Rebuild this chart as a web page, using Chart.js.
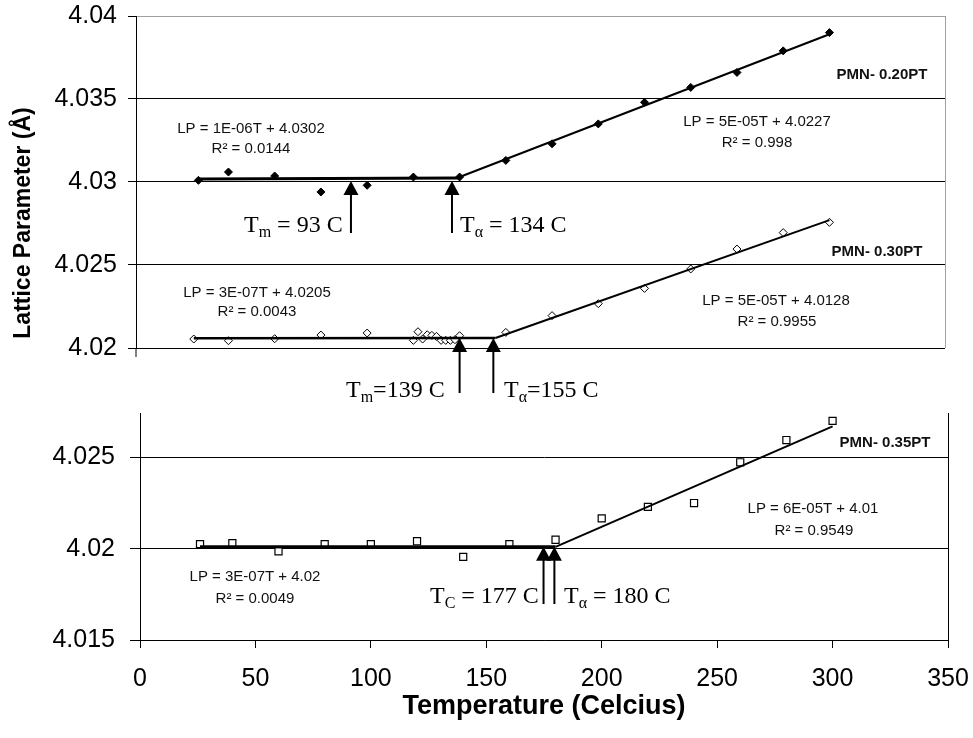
<!DOCTYPE html>
<html>
<head>
<meta charset="utf-8">
<script src="https://cdn.jsdelivr.net/npm/chart.js@4.4.1/dist/chart.umd.min.js"></script>
<style>
  html, body { margin: 0; padding: 0; background: #fff; overflow: hidden; width: 973px; height: 738px; }
  #wrap { position: relative; width: 973px; height: 738px; overflow: hidden; }
  #bot { position: absolute; left: 0; top: 380px; }
  #top { position: absolute; left: 0; top: -14px; }
</style>
</head>
<body>
<div id="wrap">
  <canvas id="bot" width="1000" height="358"></canvas>
  <canvas id="top" width="1000" height="420"></canvas>
</div>
<script>
// PMN-0.20PT (filled diamonds)
const T20 = [27, 40, 60, 80, 100, 120, 140, 160, 180, 200, 220, 240, 260, 280, 300];
const LP20 = [4.0301, 4.0306, 4.03036, 4.0294, 4.0298, 4.0303, 4.0303, 4.0313, 4.0323, 4.0335, 4.0348, 4.0357, 4.0366, 4.0379, 4.0390];
// PMN-0.30PT (open diamonds)
const T30 = [25, 40, 60, 80, 100, 120, 122, 124, 126, 128, 130, 132, 134, 136, 138, 140, 160, 180, 200, 220, 240, 260, 280, 300];
const LP30 = [4.02054, 4.02044, 4.02056, 4.02078, 4.0209, 4.02046, 4.02098, 4.02054, 4.0208, 4.02076, 4.0207, 4.02046,
              4.02046, 4.02046, 4.0205, 4.02074, 4.02094, 4.02195, 4.02267, 4.02359, 4.02476, 4.02596, 4.02695, 4.02757];
// PMN-0.35PT (open squares)
const T35 = [26, 40, 60, 80, 100, 120, 140, 160, 180, 200, 220, 240, 260, 280, 300];
const LP35 = [4.02025, 4.0203, 4.01986, 4.02025, 4.02025, 4.02041, 4.01955, 4.02025, 4.02049, 4.02166, 4.02229, 4.0225, 4.02473, 4.02595, 4.0270];

// trend lines (end points)
const fit20LowT = [27, 140], fit20LowLP = [4.03018, 4.03024];
const fit20HighT = [140, 300], fit20HighLP = [4.0303, 4.0389];
const fit30LowT = [25, 155.5], fit30LowLP = [4.02058, 4.0206];
const fit30HighT = [155.5, 300], fit30HighLP = [4.0206, 4.0277];
const fit35LowT = [26, 180], fit35LowLP = [4.0201, 4.0201];
const fit35HighT = [180, 300], fit35HighLP = [4.0201, 4.0267];

// transition arrows (temperature where each arrow stands)
const arrowsTopT = [93, 136.7];
const arrowsMidT = [140, 154.6];
const arrowsBotT = [174.8, 179.5];

// ticks
const xTicks = [0, 50, 100, 150, 200, 250, 300, 350];
const topYTicks = [4.02, 4.025, 4.03, 4.035, 4.04];
const topYLabels = ['4.02', '4.025', '4.03', '4.035', '4.04'];
const botYTicks = [4.015, 4.02, 4.025];
const botYLabels = ['4.015', '4.02', '4.025'];

Chart.defaults.font.family = '"Liberation Sans", Arial, sans-serif';
Chart.defaults.color = '#000';

const pts = (t, v) => t.map((x, i) => ({ x: x, y: v[i] }));

function fitSet(t, v, w) {
  return { data: pts(t, v), showLine: true, pointRadius: 0, borderColor: '#000', borderWidth: w, fill: false };
}

function arrow(ctx, x, yTip, yEnd) {
  ctx.save();
  ctx.fillStyle = '#000';
  ctx.strokeStyle = '#000';
  ctx.lineWidth = 2;
  ctx.beginPath();
  ctx.moveTo(x, yTip + 10);
  ctx.lineTo(x, yEnd);
  ctx.stroke();
  ctx.beginPath();
  ctx.moveTo(x, yTip);
  ctx.lineTo(x - 7.5, yTip + 14);
  ctx.lineTo(x + 7.5, yTip + 14);
  ctx.closePath();
  ctx.fill();
  ctx.restore();
}

// "T" with a subscript, then the rest of the text
function tLabel(ctx, x, y, sub, rest) {
  ctx.save();
  ctx.fillStyle = '#000';
  ctx.textAlign = 'left';
  ctx.textBaseline = 'alphabetic';
  ctx.font = '24px "Liberation Serif"';
  ctx.fillText('T', x, y);
  let w = ctx.measureText('T').width;
  ctx.font = '16px "Liberation Serif"';
  ctx.fillText(sub, x + w, y + 5);
  w += ctx.measureText(sub).width;
  ctx.font = '24px "Liberation Serif"';
  ctx.fillText(rest, x + w, y);
  ctx.restore();
}

function note(ctx, text, x, y, bold) {
  ctx.save();
  ctx.fillStyle = '#111';
  ctx.textAlign = 'center';
  ctx.textBaseline = 'middle';
  ctx.font = (bold ? 'bold 15px' : '15px') + ' "Liberation Sans"';
  ctx.fillText(text, x, y);
  ctx.restore();
}

const topNotes = {
  id: 'topNotes',
  afterDraw(chart) {
    const { ctx, chartArea } = chart;
    const x = chart.scales.x, y = chart.scales.y;
    const oy = 14; // canvas sits 14px above the page
    ctx.save();
    ctx.strokeStyle = '#000';
    ctx.lineWidth = 1;
    ctx.beginPath();
    ctx.moveTo(chartArea.left, chartArea.bottom);
    ctx.lineTo(chartArea.left, chartArea.bottom + 9);
    ctx.stroke();
    // y axis title, set a bit lower than the panel centre as in the original
    ctx.translate(24, 223 + oy);
    ctx.rotate(-Math.PI / 2);
    ctx.fillStyle = '#000';
    ctx.textAlign = 'center';
    ctx.textBaseline = 'middle';
    ctx.font = 'bold 23px "Liberation Sans"';
    ctx.fillText('Lattice Parameter (Å)', 0, 0);
    ctx.restore();

    arrow(ctx, x.getPixelForValue(arrowsTopT[0]), y.getPixelForValue(4.03) - 1, 233 + oy);
    arrow(ctx, x.getPixelForValue(arrowsTopT[1]), y.getPixelForValue(4.03) - 1, 233 + oy);
    arrow(ctx, x.getPixelForValue(arrowsMidT[0]), y.getPixelForValue(4.0206), 393 + oy);
    arrow(ctx, x.getPixelForValue(arrowsMidT[1]), y.getPixelForValue(4.0206), 393 + oy);

    tLabel(ctx, 244, 232 + oy, 'm', ' = 93 C');
    tLabel(ctx, 460, 232 + oy, 'α', ' = 134 C');
    tLabel(ctx, 346, 397 + oy, 'm', '=139 C');
    tLabel(ctx, 504, 397 + oy, 'α', '=155 C');

    note(ctx, 'LP = 1E-06T + 4.0302', 251, 129 + oy);
    note(ctx, 'R² = 0.0144', 251, 149 + oy);
    note(ctx, 'LP = 5E-05T + 4.0227', 757, 122 + oy);
    note(ctx, 'R² = 0.998', 757, 143 + oy);
    note(ctx, 'PMN- 0.20PT', 882, 75 + oy, true);

    note(ctx, 'LP = 3E-07T + 4.0205', 257, 293 + oy);
    note(ctx, 'R² = 0.0043', 257, 312 + oy);
    note(ctx, 'LP = 5E-05T + 4.0128', 776, 301 + oy);
    note(ctx, 'R² = 0.9955', 777, 322 + oy);
    note(ctx, 'PMN- 0.30PT', 877, 252 + oy, true);
  }
};

const botNotes = {
  id: 'botNotes',
  afterDraw(chart) {
    const { ctx } = chart;
    const x = chart.scales.x, y = chart.scales.y;
    const oy = -380; // canvas starts 380px down the page
    arrow(ctx, x.getPixelForValue(arrowsBotT[0]), y.getPixelForValue(4.0201), 604 + oy);
    arrow(ctx, x.getPixelForValue(arrowsBotT[1]), y.getPixelForValue(4.0201), 604 + oy);
    tLabel(ctx, 430, 603 + oy, 'C', ' = 177 C');
    tLabel(ctx, 564, 603 + oy, 'α', ' = 180 C');

    note(ctx, 'PMN- 0.35PT', 885, 443 + oy, true);
    note(ctx, 'LP = 6E-05T + 4.01', 813, 509 + oy);
    note(ctx, 'R² = 0.9549', 814, 531 + oy);
    note(ctx, 'LP = 3E-07T + 4.02', 255, 577 + oy);
    note(ctx, 'R² = 0.0049', 255, 599 + oy);
  }
};

// upper panel: PMN-0.20PT and PMN-0.30PT
new Chart(document.getElementById('top'), {
  type: 'scatter',
  data: {
    datasets: [
      fitSet(fit20LowT, fit20LowLP, 3),
      fitSet(fit20HighT, fit20HighLP, 2),
      fitSet(fit30LowT, fit30LowLP, 2.5),
      fitSet(fit30HighT, fit30HighLP, 2),
      { data: pts(T20, LP20), pointStyle: 'rectRot', pointRadius: 4, backgroundColor: '#000', borderColor: '#000', borderWidth: 1 },
      { data: pts(T30, LP30), pointStyle: 'rectRot', pointRadius: 4, backgroundColor: '#fff', borderColor: '#000', borderWidth: 1 }
    ]
  },
  options: {
    responsive: false,
    animation: false,
    layout: { padding: { top: 30, right: 55, bottom: 58, left: 0 } },
    plugins: { legend: { display: false }, tooltip: { enabled: false } },
    scales: {
      x: {
        type: 'linear', min: 0, max: 350,
        afterBuildTicks: s => { s.ticks = xTicks.map(v => ({ value: v })); },
        ticks: { display: false },
        border: { display: false },
        grid: { drawTicks: false, color: c => (c.tick && c.tick.value === 350 ? '#a0a0a0' : 'rgba(0,0,0,0)') }
      },
      y: {
        min: 4.02, max: 4.04,
        afterBuildTicks: s => { s.ticks = topYTicks.map(v => ({ value: v })); },
        afterFit: s => { s.width = 136; },
        ticks: { callback: (v, i) => topYLabels[i], font: { size: 25 }, color: '#000', padding: 11 },
        grid: { color: c => (c.tick && c.tick.value === 4.04 ? '#a0a0a0' : '#000'), tickColor: '#000', tickLength: 8 },
        border: { display: true, color: '#000', width: 1 }
      }
    }
  },
  plugins: [topNotes]
});

// lower panel: PMN-0.35PT
new Chart(document.getElementById('bot'), {
  type: 'scatter',
  data: {
    datasets: [
      fitSet(fit35LowT, fit35LowLP, 3),
      fitSet(fit35HighT, fit35HighLP, 2),
      { data: pts(T35, LP35), pointStyle: 'rect', pointRadius: 5, backgroundColor: '#fff', borderColor: '#000', borderWidth: 1.2 }
    ]
  },
  options: {
    responsive: false,
    animation: false,
    layout: { padding: { top: 33, right: 52, bottom: 0, left: 0 } },
    plugins: { legend: { display: false }, tooltip: { enabled: false } },
    scales: {
      x: {
        type: 'linear', min: 0, max: 350,
        afterBuildTicks: s => { s.ticks = xTicks.map(v => ({ value: v })); },
        afterFit: s => { s.height = 98; },
        ticks: { font: { size: 25 }, color: '#000', padding: 16, maxRotation: 0 },
        grid: { color: c => (c.tick && c.tick.value === 350 ? '#000' : 'rgba(0,0,0,0)'), tickColor: '#000', tickLength: 8 },
        border: { display: true, color: '#000', width: 1 },
        title: {
          display: true, text: 'Temperature (Celcius)',
          font: { size: 27, weight: 'bold' }, color: '#000', padding: { top: 0, bottom: 15 }
        }
      },
      y: {
        min: 4.015, max: 4.02743,
        afterBuildTicks: s => { s.ticks = botYTicks.map(v => ({ value: v })); },
        afterFit: s => { s.width = 140; },
        ticks: { callback: (v, i) => botYLabels[i], font: { size: 25 }, color: '#000', padding: 15 },
        grid: { color: '#000', tickColor: '#000', tickLength: 10 },
        border: { display: true, color: '#000', width: 1 }
      }
    }
  },
  plugins: [botNotes]
});
</script>
</body>
</html>
